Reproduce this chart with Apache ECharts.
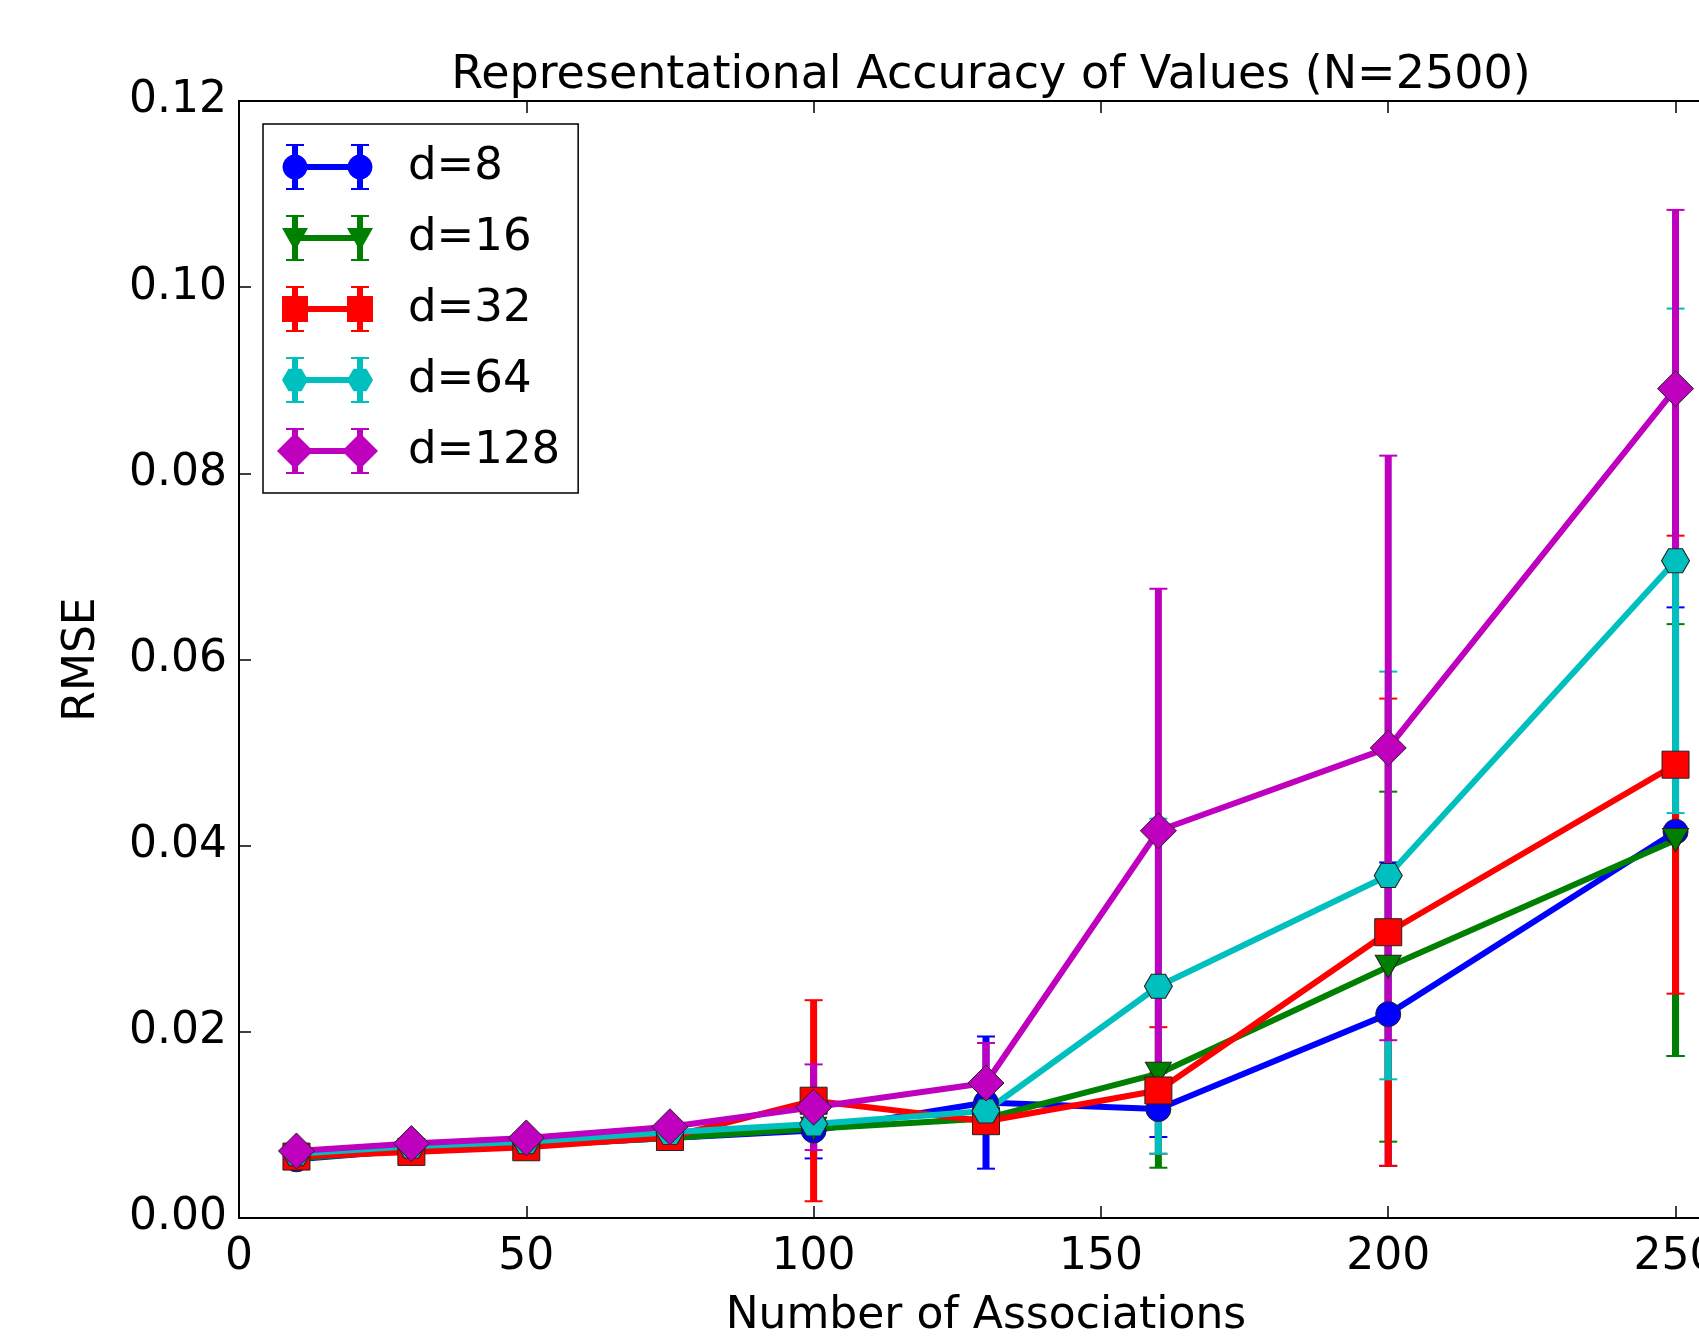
<!DOCTYPE html>
<html>
<head>
<meta charset="utf-8">
<script src="https://cdn.jsdelivr.net/npm/echarts@6/dist/echarts.min.js"></script>
<style>
html, body { margin: 0; padding: 0; overflow: hidden; background: #fff; }
#chart { width: 1800px; height: 1340px; }
</style>
</head>
<body>
<div id="chart"></div>
<script>
// number of associations
var xValues = [10, 30, 50, 75, 100, 130, 160, 200, 250];
var seriesNames = ['d=8', 'd=16', 'd=32', 'd=64', 'd=128'];

// RMSE means
var rmseD8   = [0.0063, 0.0073, 0.0078, 0.0086, 0.0094, 0.0124, 0.0117, 0.0219, 0.0415];
var rmseD16  = [0.0064, 0.0073, 0.0078, 0.0086, 0.0096, 0.0107, 0.0155, 0.0270, 0.0406];
var rmseD32  = [0.0066, 0.0071, 0.0076, 0.0087, 0.0126, 0.0104, 0.0137, 0.0307, 0.0487];
var rmseD64  = [0.0069, 0.0077, 0.0082, 0.0092, 0.0101, 0.0115, 0.0249, 0.0368, 0.0706];
var rmseD128 = [0.0072, 0.0080, 0.0086, 0.0098, 0.0119, 0.0145, 0.0416, 0.0505, 0.0891];

// error bar half heights
var errD8   = [0.0003, 0.0003, 0.0003, 0.0004, 0.0030, 0.0071, 0.0030, 0.0163, 0.0241];
var errD16  = [0.0003, 0.0003, 0.0003, 0.0004, 0.0010, 0.0010, 0.0101, 0.0188, 0.0232];
var errD32  = [0.0003, 0.0003, 0.0003, 0.0004, 0.0108, 0.0010, 0.0068, 0.0251, 0.0246];
var errD64  = [0.0003, 0.0003, 0.0003, 0.0004, 0.0010, 0.0010, 0.0180, 0.0219, 0.0271];
var errD128 = [0.0003, 0.0003, 0.0003, 0.0004, 0.0046, 0.0043, 0.0260, 0.0314, 0.0192];

var xTicks = [0, 50, 100, 150, 200, 250];

var means = [rmseD8, rmseD16, rmseD32, rmseD64, rmseD128];
var errs = [errD8, errD16, errD32, errD64, errD128];
var colors = ['#0000ff', '#008000', '#ff0000', '#00bfbf', '#bf00bf'];
var hexPath = 'path://M-1,0 L-0.5,-0.866 L0.5,-0.866 L1,0 L0.5,0.866 L-0.5,0.866 Z';
var symbols = ['circle', 'triangle', 'rect', hexPath, 'diamond'];
var symbolSizes = [25, [26, 23], 27, [28, 24], 36];
var symbolRotates = [0, 180, 0, 0, 0];

var FONT = 'DejaVu Sans';

// legend icons: marker - line - marker with error bars
function poly(pts) {
    var s = 'M' + pts[0][0].toFixed(2) + ',' + pts[0][1].toFixed(2);
    for (var i = 1; i < pts.length; i++) {
        s += ' L' + pts[i][0].toFixed(2) + ',' + pts[i][1].toFixed(2);
    }
    return s + ' Z ';
}
function rect(x0, y0, x1, y1) {
    return poly([[x0, y0], [x1, y0], [x1, y1], [x0, y1]]);
}
function markerPath(kind, cx, cy) {
    var pts = [], i, a;
    if (kind === 0) {
        for (i = 0; i < 20; i++) { a = i / 20 * Math.PI * 2; pts.push([cx + 12.5 * Math.cos(a), cy + 12.5 * Math.sin(a)]); }
    } else if (kind === 1) {
        pts = [[cx - 13, cy - 10], [cx + 13, cy - 10], [cx, cy + 13]];
    } else if (kind === 2) {
        pts = [[cx - 13, cy - 13], [cx + 13, cy - 13], [cx + 13, cy + 13], [cx - 13, cy + 13]];
    } else if (kind === 3) {
        for (i = 0; i < 6; i++) { a = i / 6 * Math.PI * 2; pts.push([cx + 13 * Math.cos(a), cy + 13 * Math.sin(a)]); }
    } else {
        pts = [[cx, cy - 18], [cx + 18, cy], [cx, cy + 18], [cx - 18, cy]];
    }
    return poly(pts);
}
function legendIcon(kind) {
    var p = '';
    var xs = [0, 65];
    p += rect(0, -3, 65, 3);
    for (var i = 0; i < 2; i++) {
        var x = xs[i];
        p += rect(x - 3, -22, x + 3, 22);
        p += rect(x - 9, -23, x + 9, -21);
        p += rect(x - 9, 21, x + 9, 23);
        p += markerPath(kind, x, 0);
    }
    return 'path://' + p;
}

function errorRender(color) {
    return function (params, api) {
        var x = api.value(0), m = api.value(1), e = api.value(2);
        var top = api.coord([x, m + e]);
        var bot = api.coord([x, m - e]);
        return {
            type: 'group',
            children: [
                { type: 'line', shape: { x1: top[0], y1: top[1], x2: bot[0], y2: bot[1] }, style: { stroke: color, lineWidth: 7 } },
                { type: 'line', shape: { x1: top[0] - 9, y1: top[1], x2: top[0] + 9, y2: top[1] }, style: { stroke: color, lineWidth: 2 } },
                { type: 'line', shape: { x1: bot[0] - 9, y1: bot[1], x2: bot[0] + 9, y2: bot[1] }, style: { stroke: color, lineWidth: 2 } }
            ]
        };
    };
}

var series = [];
var legendData = [];
for (var k = 0; k < seriesNames.length; k++) {
    var errData = [];
    for (var i = 0; i < xValues.length; i++) {
        errData.push([xValues[i], means[k][i], errs[k][i]]);
    }
    series.push({
        name: seriesNames[k],
        type: 'custom',
        z: 2,
        silent: true,
        renderItem: errorRender(colors[k]),
        encode: { x: 0, y: 1 },
        data: errData
    });
    legendData.push({ name: seriesNames[k], icon: legendIcon(k) });
}
for (var k2 = 0; k2 < seriesNames.length; k2++) {
    var ld = [];
    for (var j = 0; j < xValues.length; j++) ld.push([xValues[j], means[k2][j]]);
    series.push({
        name: seriesNames[k2],
        type: 'line',
        z: 3,
        data: ld,
        symbol: symbols[k2],
        symbolSize: symbolSizes[k2],
        symbolRotate: symbolRotates[k2],
        showAllSymbol: true,
        lineStyle: { color: colors[k2], width: 6 },
        itemStyle: { color: colors[k2], borderColor: '#222', borderWidth: 1 },
        emphasis: { disabled: true }
    });
}

var myChart = echarts.init(document.getElementById('chart'));
var option = {
    animation: false,
    backgroundColor: '#fff',
    color: colors,
    title: {
        text: 'Representational Accuracy of Values (N=2500)',
        left: 986,
        top: 48,
        textAlign: 'center',
        textStyle: { color: '#000', fontFamily: FONT, fontSize: 46, fontWeight: 'normal' }
    },
    legend: {
        data: legendData,
        orient: 'vertical',
        left: 263,
        top: 124,
        itemWidth: 101,
        itemHeight: 46,
        itemGap: 25,
        padding: [20, 18, 19, 14],
        borderColor: '#000',
        borderWidth: 1.5,
        backgroundColor: '#fff',
        itemStyle: { borderWidth: 0 },
        textStyle: { color: '#000', fontFamily: FONT, fontSize: 45, padding: [0, 0, 0, 25] },
        selectedMode: false
    },
    grid: { left: 239, top: 101, right: 67, bottom: 122, outerBoundsMode: 'none', containLabel: false },
    xAxis: [{
        type: 'value',
        min: 0,
        max: 260,
        interval: 50,
        name: 'Number of Associations',
        nameLocation: 'middle',
        nameGap: 77,
        nameTextStyle: { color: '#000', fontFamily: FONT, fontSize: 44 },
        axisLine: { onZero: false, lineStyle: { color: '#000', width: 2 } },
        axisTick: { inside: true, length: 12, lineStyle: { color: '#000', width: 1.5 } },
        axisLabel: {
            margin: 18,
            color: '#000', fontFamily: FONT, fontSize: 44,
            formatter: function (v) { return xTicks.indexOf(v) >= 0 ? String(v) : ''; }
        },
        splitLine: { show: false }
    }, {
        type: 'value',
        position: 'top',
        min: 0,
        max: 260,
        interval: 50,
        axisLine: { onZero: false, lineStyle: { color: '#000', width: 2 } },
        axisTick: { inside: true, length: 12, lineStyle: { color: '#000', width: 1.5 } },
        axisLabel: { show: false },
        splitLine: { show: false }
    }],
    yAxis: [{
        type: 'value',
        min: 0,
        max: 0.12,
        interval: 0.02,
        name: 'RMSE',
        nameLocation: 'middle',
        nameGap: 134,
        nameRotate: 90,
        nameTextStyle: { color: '#000', fontFamily: FONT, fontSize: 44 },
        axisLine: { show: true, onZero: false, lineStyle: { color: '#000', width: 2 } },
        axisTick: { show: true, inside: true, length: 12, lineStyle: { color: '#000', width: 1.5 } },
        axisLabel: {
            margin: 12,
            color: '#000', fontFamily: FONT, fontSize: 44,
            formatter: function (v) { return v.toFixed(2); }
        },
        splitLine: { show: false }
    }, {
        type: 'value',
        position: 'right',
        min: 0,
        max: 0.12,
        interval: 0.02,
        axisLine: { show: true, onZero: false, lineStyle: { color: '#000', width: 2 } },
        axisTick: { show: true, inside: true, length: 12, lineStyle: { color: '#000', width: 1.5 } },
        axisLabel: { show: false },
        splitLine: { show: false }
    }],
    series: series
};
myChart.setOption(option);
</script>
</body>
</html>
